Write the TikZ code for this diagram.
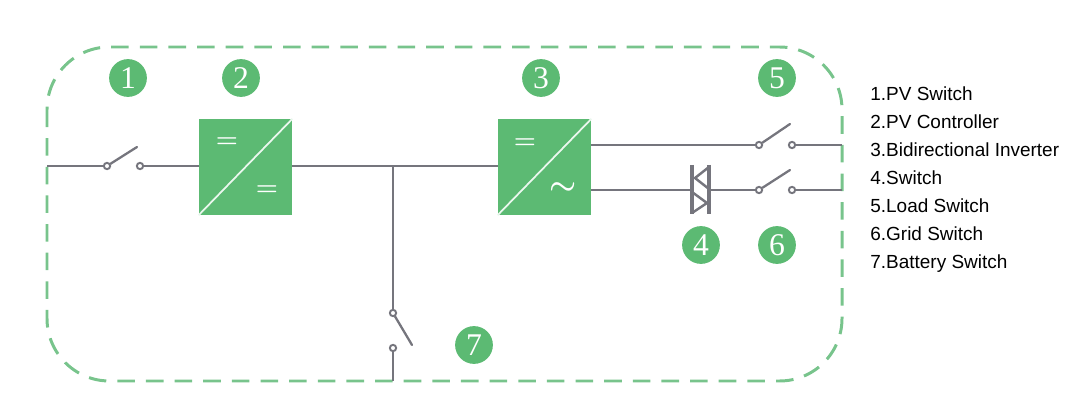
\documentclass[tikz,border=0pt]{standalone}
\usepackage{fontspec}
\setmainfont{Liberation Sans}
\newfontfamily\numfont{Liberation Serif}
\definecolor{ggbbtt}{rgb}{0.36, 0.73, 0.45}
\definecolor{ddggtt}{rgb}{0.47, 0.77, 0.55}
\definecolor{wwwwxx}{rgb}{0.46, 0.46, 0.49}
\tikzset{
    wire/.style={color=wwwwxx,line width=1.5pt},
    blade/.style={color=wwwwxx,line width=1.3pt,line cap=round},
    contact/.style={circle,draw=wwwwxx,fill=white,line width=1.1pt,inner sep=0pt,minimum size=3.6pt},
    badge/.style={circle,fill=ggbbtt,text=white,inner sep=0pt,minimum size=21.5pt,font=\fontsize{18}{18}\numfont},
    conv/.style={rectangle,fill=ggbbtt,inner sep=0pt,minimum width=53pt,minimum height=54.5pt},
    sign/.style={text=white,inner sep=0pt,font=\fontsize{15}{15}\selectfont\boldmath},
    legend/.style={anchor=base west,inner sep=0pt,font=\fontsize{10.8}{12}\selectfont}
}
\begin{document}
\begin{tikzpicture}[x=0.02cm,y=-0.02cm]
        \useasboundingbox (0, 0) rectangle (1075, 415);

        % marco
        \draw [color=ddggtt,line width=1.7pt,dash pattern=on 10pt off 6.3pt,rounded corners=1.25cm] (47, 47) rectangle (842, 381);

        % convertidores
        \node [conv] (conv2) at (245.5, 167) {};
        \node [conv] (conv3) at (544.5, 167) {};
        \foreach \c in {conv2, conv3}
        \draw [color=white!88!ggbbtt,line width=1pt] (\c.south west) -- (\c.north east);
        \node [sign] (eq2a) at (227, 143) {$=$};
        \node [sign] (eq2b) at (267, 191) {$=$};
        \node [sign] (eq3a) at (525, 144) {$=$};
        \node [sign,font=\fontsize{18}{18}\selectfont\boldmath] (ac3) at (563, 189) {$\sim$};

        % contactos
        \foreach \n/\x/\y in {a/107/166, b/140/166, c/759/145, d/792/145, e/759/190, f/792/190, g/393/313, h/393/348}
        \node [contact] (\n) at (\x, \y) {};

        % extremos libres
        \coordinate (pv) at (47, 166);
        \coordinate (load) at (842, 145);
        \coordinate (grid) at (842, 190);
        \coordinate (bat) at (393, 381);
        \coordinate (tee) at (393, 166);
        \coordinate (up3) at (591, 145);
        \coordinate (low3) at (591, 190);
        \coordinate (thl) at (692, 190);
        \coordinate (thr) at (709, 190);

        \draw [wire] (pv) -- (a);
        \draw [wire] (b) -- (conv2.west |- b);
        \draw [wire] (conv2.east |- tee) -- (tee) -- (conv3.west |- tee);
        \draw [wire] (tee) -- (g);
        \draw [wire] (h) -- (bat);
        \draw [wire] (up3) -- (c);
        \draw [wire] (d) -- (load);
        \draw [wire] (low3) -- (thl);
        \draw [wire] (thr) -- (e);
        \draw [wire] (f) -- (grid);

        % cuchillas
        \coordinate (ba) at (137, 147);
        \coordinate (bc) at (790, 124);
        \coordinate (be) at (790, 170);
        \coordinate (bg) at (412, 345);
        \draw [blade] (a) -- (ba);
        \draw [blade] (c) -- (bc);
        \draw [blade] (e) -- (be);
        \draw [blade] (g) -- (bg);

        % tiristor
        \draw [color=wwwwxx,line width=2pt] (692, 165) -- (692, 214);
        \draw [color=wwwwxx,line width=2pt] (709, 165) -- (709, 214);
        \draw [color=wwwwxx,line width=1.4pt] (709, 167) -- (695, 178) -- (709, 189);
        \draw [color=wwwwxx,line width=1.4pt] (692, 192) -- (707, 203) -- (692, 213);

        % numeros
        \foreach \n/\x/\y in {1/128/78, 2/241/78, 3/541/78, 4/701/245, 5/777/78, 6/777/245, 7/474/345}
        \node [badge] (num\n) at (\x, \y) {\n};

        % leyenda
        \foreach \n/\t [count=\i from 0] in {1/PV Switch, 2/PV Controller, 3/Bidirectional Inverter, 4/Switch, 5/Load Switch, 6/Grid Switch, 7/Battery Switch}
        \node [legend] (item\n) at (870, 100.5 + 28*\i) {\n.\t};
    \end{tikzpicture}
\end{document}
